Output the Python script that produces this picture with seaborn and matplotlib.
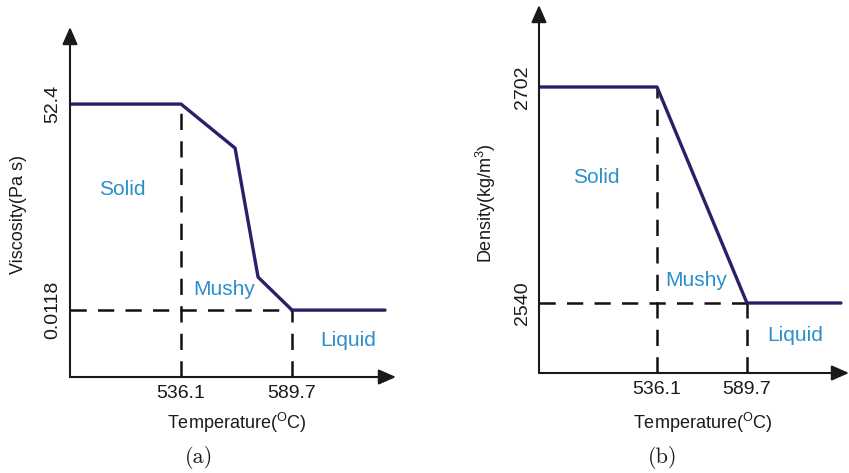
import matplotlib
matplotlib.use("Agg")
import matplotlib.pyplot as plt
import pandas as pd
import seaborn as sns

# ---- data -------------------------------------------------------------
temp_a = [482.5, 536.1, 562.2, 573.3, 589.7, 634.6]
viscosity = [52.4, 52.4, 41.2, 8.4, 0.0118, 0.0118]

temp_b = [465.8, 536.1, 589.7, 645.7]
density = [2702, 2702, 2540, 2540]

t_solidus = 536.1
t_liquidus = 589.7
visc_ticks = [52.4, 0.0118]
visc_tick_labels = ["52.4", "0.0118"]
dens_ticks = [2702, 2540]
dens_tick_labels = ["2702", "2540"]
temp_tick_labels = ["536.1", "589.7"]

# ---- style ------------------------------------------------------------
sns.set_theme(style="white")
plt.rcParams["font.family"] = ["Liberation Sans", "DejaVu Sans"]
plt.rcParams["mathtext.fontset"] = "custom"
plt.rcParams["mathtext.rm"] = "Liberation Sans"
plt.rcParams["mathtext.it"] = "Liberation Sans"

LINE = "#272168"
REGION = "#2a8fcb"
AX = "#1a1a1a"

W, H = 849, 473
fig = plt.figure(figsize=(W / 100, H / 100), dpi=100)


def px_axes(left, right, bottom, top):
    return fig.add_axes([left / W, 1 - bottom / H, (right - left) / W, (bottom - top) / H])


def draw_frame(ax):
    for s in ax.spines.values():
        s.set_visible(False)
    kw = dict(arrowstyle="-|>,head_length=0.75,head_width=0.33", lw=1.5, color=AX,
              shrinkA=0, shrinkB=0, mutation_scale=14)
    ax.annotate("", xy=(1, 0), xytext=(0, 0), xycoords="axes fraction",
                arrowprops=kw, annotation_clip=False)
    ax.annotate("", xy=(0, 1), xytext=(0, 0), xycoords="axes fraction",
                arrowprops=kw, annotation_clip=False)
    ax.tick_params(length=0, labelsize=14, colors=AX)
    ax.tick_params(axis="x", pad=6)
    ax.tick_params(axis="y", pad=6)
    for lab in ax.get_yticklabels():
        lab.set_rotation(90)
        lab.set_va("center")
    ax.grid(False)


def guides(ax, y_top, y_low, x_start, y_base):
    dash = dict(color="#111111", lw=1.8, ls=(0, (6.5, 4.5)), zorder=1)
    ax.plot([t_solidus, t_solidus], [y_base, y_top], **dash)
    ax.plot([x_start, t_liquidus], [y_low, y_low], **dash)
    ax.plot([t_liquidus, t_liquidus], [y_base, y_low], **dash)


def regions(ax, pos):
    for name, (x, y) in pos.items():
        ax.text(x, y, name, color=REGION, fontsize=15, ha="center", va="center")


# ---- (a) viscosity ----------------------------------------------------
ax1 = px_axes(70, 396, 377, 27)
df_a = pd.DataFrame({"T": temp_a, "v": viscosity})
sns.lineplot(data=df_a, x="T", y="v", ax=ax1, sort=False, estimator=None,
             color=LINE, lw=2.4, zorder=3)
ax1.set_xlim(482.5, 639.9)
ax1.set_ylim(-17.0, 72.0)
guides(ax1, visc_ticks[0], visc_ticks[1], 482.5, -17.0)
ax1.set_xticks([t_solidus, t_liquidus], temp_tick_labels)
ax1.set_yticks(visc_ticks, visc_tick_labels)
draw_frame(ax1)
ax1.set_xlabel(r"Temperature($^{\rm O}$C)", fontsize=13, color=AX, va="center")
ax1.set_ylabel("Viscosity(Pa s)", fontsize=13, color=AX, va="center")
ax1.xaxis.set_label_coords(0.512, -0.131)
ax1.yaxis.set_label_coords(-0.1595, 0.463)
regions(ax1, {"Solid": (507.6, 30.8), "Mushy": (556.9, 5.3), "Liquid": (616.7, -7.6)})

# ---- (b) density ------------------------------------------------------
ax2 = px_axes(539, 849, 373, 5)
df_b = pd.DataFrame({"T": temp_b, "rho": density})
sns.lineplot(data=df_b, x="T", y="rho", ax=ax2, sort=False, estimator=None,
             color=LINE, lw=2.4, zorder=3)
ax2.set_xlim(465.8, 650.5)
ax2.set_ylim(2487.5, 2763.5)
guides(ax2, dens_ticks[0], dens_ticks[1], 465.8, 2487.5)
ax2.set_xticks([t_solidus, t_liquidus], temp_tick_labels)
ax2.set_yticks(dens_ticks, dens_tick_labels)
draw_frame(ax2)
ax2.set_xlabel(r"Temperature($^{\rm O}$C)", fontsize=13, color=AX, va="center")
ax2.set_ylabel(r"Density(kg/m$^3$)", fontsize=13, color=AX, va="center")
ax2.xaxis.set_label_coords(0.529, -0.136)
ax2.yaxis.set_label_coords(-0.171, 0.462)
regions(ax2, {"Solid": (499.7, 2634.5), "Mushy": (559.3, 2557.0), "Liquid": (618.3, 2516.0)})

# ---- panel captions ---------------------------------------------------
fig.text(199 / W, 1 - 457 / H, "(a)", fontfamily="cmr10", fontsize=16,
         ha="center", va="center", color=AX)
fig.text(663 / W, 1 - 457 / H, "(b)", fontfamily="cmr10", fontsize=16,
         ha="center", va="center", color=AX)

fig.savefig("out.png", dpi=100, facecolor="white")
